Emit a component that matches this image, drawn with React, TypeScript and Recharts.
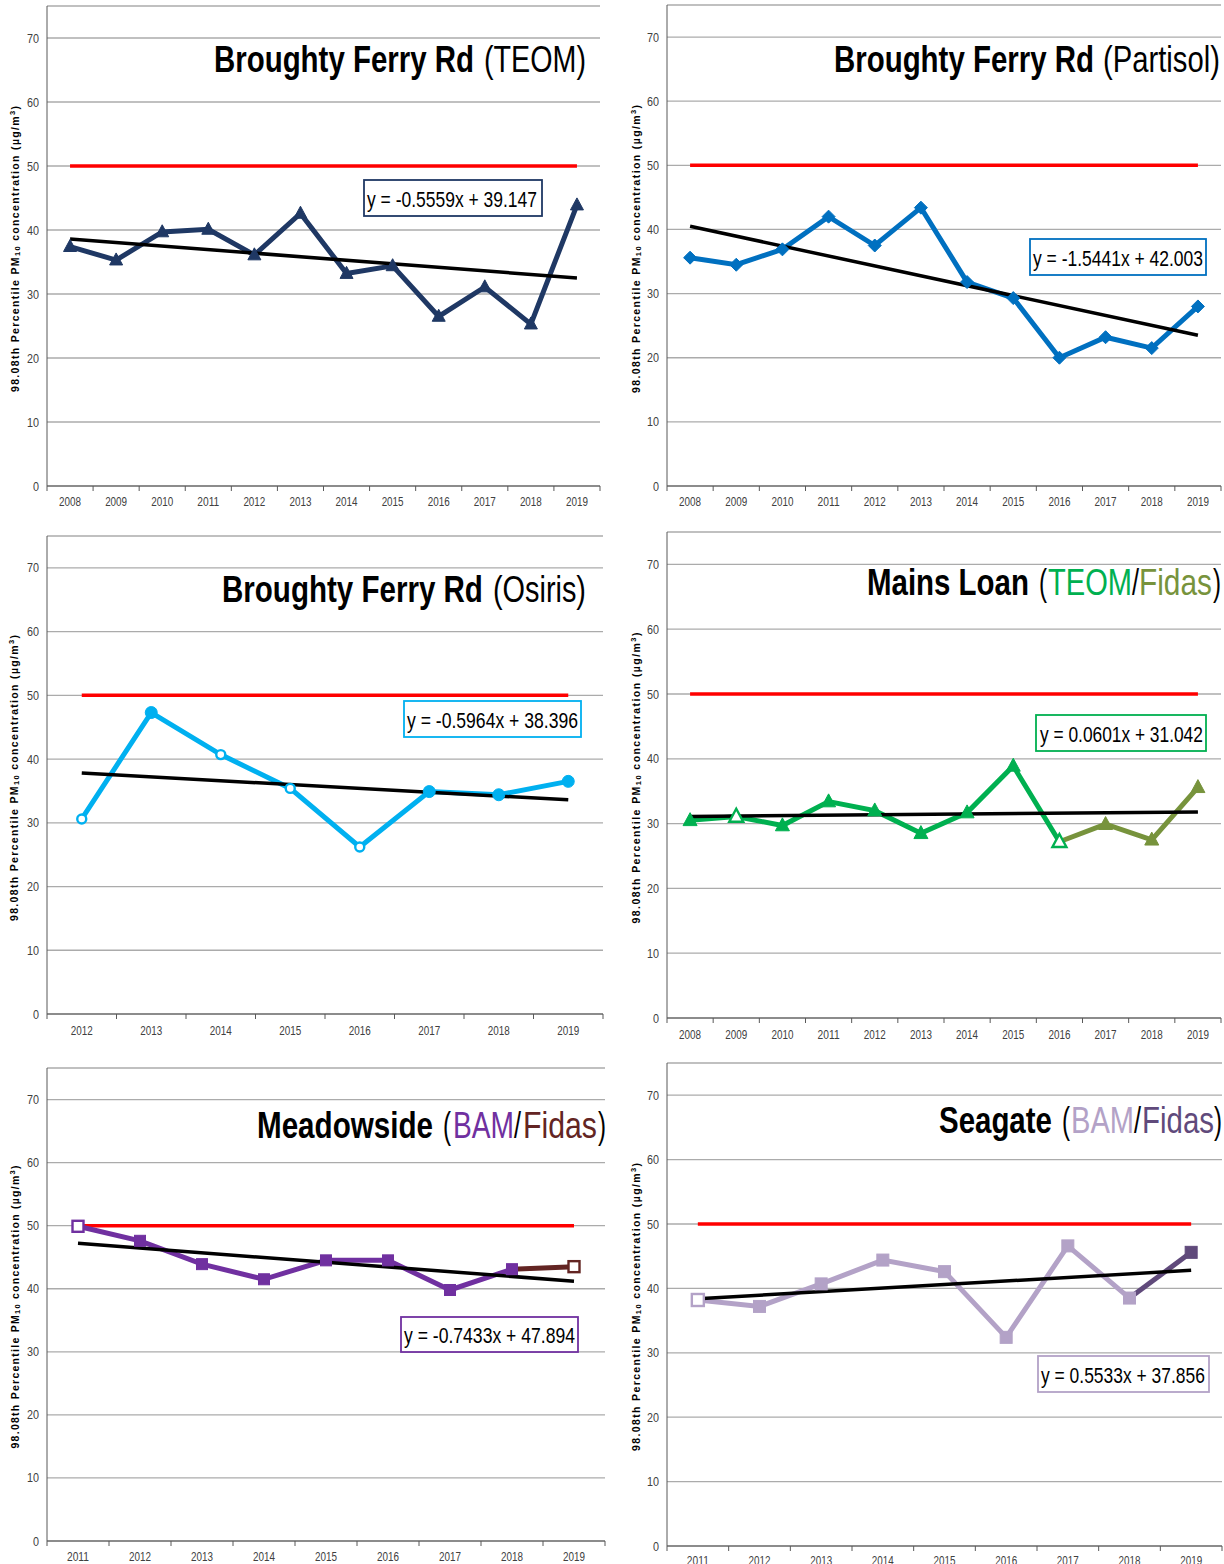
import React from "react";
import { CartesianGrid, Line, LineChart, XAxis, YAxis } from "recharts";

const FONT = '"Liberation Sans", Arial, Helvetica, sans-serif';

// categories
const years0819 = ["2008", "2009", "2010", "2011", "2012", "2013", "2014", "2015", "2016", "2017", "2018", "2019"];
const years1219 = ["2012", "2013", "2014", "2015", "2016", "2017", "2018", "2019"];
const years1119 = ["2011", "2012", "2013", "2014", "2015", "2016", "2017", "2018", "2019"];

// 98.08th percentile PM10, ug/m3
const bfTeom = [37.4, 35.3, 39.7, 40.1, 36.1, 42.6, 33.2, 34.4, 26.5, 31.1, 25.3, 43.9];
const bfPartisol = [35.6, 34.5, 36.9, 42.0, 37.5, 43.4, 31.8, 29.3, 20.0, 23.2, 21.5, 28.0];
const bfOsiris = [30.6, 47.3, 40.7, 35.4, 26.2, 34.9, 34.4, 36.5];
const mlTeom = [30.5, 31.1, 29.7, 33.4, 32.0, 28.5, 31.7, 38.9, 27.2, null, null, null];
const mlFidas = [null, null, null, null, null, null, null, null, 27.2, 29.9, 27.5, 35.6];
const mwBam = [49.9, 47.6, 43.9, 41.5, 44.5, 44.5, 39.8, 43.1, null];
const mwFidas = [null, null, null, null, null, null, null, 43.1, 43.5];
const sgBam = [38.2, 37.2, 40.7, 44.4, 42.6, 32.4, 46.6, 38.5, null];
const sgFidas = [null, null, null, null, null, null, null, 38.5, 45.6];

// linear trend, value at first and last year
const bfTeomTrend = [38.6, 32.5];
const bfPartisolTrend = [40.5, 23.5];
const bfOsirisTrend = [37.8, 33.6];
const mlTrend = [31.1, 31.8];
const mwTrend = [47.2, 41.2];
const sgTrend = [38.4, 42.8];

const limitValue = 50;
const yTicks = [0, 10, 20, 30, 40, 50, 60, 70];

type Shape = "triangle" | "diamond" | "circle" | "square";

type Series = {
  key: string;
  values: (number | null)[];
  color: string;
  shape: Shape;
  size: number;
  hollow: string[];
  skip: string[];
};

// one piece of title text: string, colour, left x, width, bold
type Piece = [string, string, number, number, boolean];

type Panel = {
  id: string;
  years: string[];
  series: Series[];
  trend: number[];
  x: number;
  y: number;
  w: number;
  h: number;
  plotLeft: number;
  plotRight: number;
  plotTop: number;
  plotBottom: number;
  labelDy: number;
  title: { pieces: Piece[]; baseline: number };
  eq: { text: string; color: string; bx: number; by: number; bw: number; bh: number; tx: number; tlen: number; base: number };
  ylab: { cx: number; cy: number; len: number };
};

const panels: Panel[] = [
  {
    id: "bf-teom",
    years: years0819,
    series: [{ key: "teom", values: bfTeom, color: "#1F3864", shape: "triangle", size: 13, hollow: [], skip: [] }],
    trend: bfTeomTrend,
    x: 0, y: 0, w: 612, h: 520,
    plotLeft: 47, plotRight: 600, plotTop: 6, plotBottom: 486, labelDy: 15,
    title: {
      pieces: [
        ["Broughty Ferry Rd", "#000", 214, 260, true],
        ["(TEOM)", "#000", 484, 102, false],
      ],
      baseline: 72,
    },
    eq: { text: "y = -0.5559x + 39.147", color: "#1F3864", bx: 364, by: 180, bw: 178, bh: 36, tx: 367, tlen: 170, base: 207 },
    ylab: { cx: 14.5, cy: 249, len: 286 },
  },
  {
    id: "bf-partisol",
    years: years0819,
    series: [{ key: "partisol", values: bfPartisol, color: "#0070C0", shape: "diamond", size: 13, hollow: [], skip: [] }],
    trend: bfPartisolTrend,
    x: 612, y: 0, w: 612, h: 520,
    plotLeft: 667, plotRight: 1221, plotTop: 5, plotBottom: 486, labelDy: 15,
    title: {
      pieces: [
        ["Broughty Ferry Rd", "#000", 834, 260, true],
        ["(Partisol)", "#000", 1103, 117, false],
      ],
      baseline: 72,
    },
    eq: { text: "y = -1.5441x + 42.003", color: "#0070C0", bx: 1030, by: 239, bw: 176, bh: 36, tx: 1033, tlen: 170, base: 266 },
    ylab: { cx: 635.5, cy: 249, len: 288 },
  },
  {
    id: "bf-osiris",
    years: years1219,
    series: [{ key: "osiris", values: bfOsiris, color: "#00B0F0", shape: "circle", size: 12, hollow: ["2012", "2014", "2015", "2016"], skip: [] }],
    trend: bfOsirisTrend,
    x: 0, y: 520, w: 612, h: 528,
    plotLeft: 47, plotRight: 603, plotTop: 536, plotBottom: 1014, labelDy: 16,
    title: {
      pieces: [
        ["Broughty Ferry Rd", "#000", 222, 261, true],
        ["(Osiris)", "#000", 493, 93, false],
      ],
      baseline: 602,
    },
    eq: { text: "y = -0.5964x + 38.396", color: "#00B0F0", bx: 404, by: 701, bw: 177, bh: 36, tx: 407, tlen: 171, base: 728 },
    ylab: { cx: 14, cy: 778, len: 286 },
  },
  {
    id: "mains-loan",
    years: years0819,
    series: [
      { key: "teom", values: mlTeom, color: "#00B050", shape: "triangle", size: 14, hollow: ["2009", "2016"], skip: [] },
      { key: "fidas", values: mlFidas, color: "#77933C", shape: "triangle", size: 14, hollow: [], skip: ["2016"] },
    ],
    trend: mlTrend,
    x: 612, y: 520, w: 612, h: 528,
    plotLeft: 667, plotRight: 1221, plotTop: 532, plotBottom: 1018, labelDy: 16,
    title: {
      pieces: [
        ["Mains Loan", "#000", 867, 162, true],
        ["(", "#000", 1039, 8, false],
        ["TEOM", "#00B050", 1048, 84, false],
        ["/", "#000", 1132, 7, false],
        ["Fidas", "#77933C", 1139, 73, false],
        [")", "#000", 1213, 8, false],
      ],
      baseline: 595,
    },
    eq: { text: "y = 0.0601x + 31.042", color: "#00B050", bx: 1036, by: 715, bw: 170, bh: 36, tx: 1040, tlen: 163, base: 742 },
    ylab: { cx: 635.5, cy: 778, len: 291 },
  },
  {
    id: "meadowside",
    years: years1119,
    series: [
      { key: "bam", values: mwBam, color: "#7030A0", shape: "square", size: 11, hollow: ["2011"], skip: [] },
      { key: "fidas", values: mwFidas, color: "#632523", shape: "square", size: 11, hollow: ["2019"], skip: ["2018"] },
    ],
    trend: mwTrend,
    x: 0, y: 1048, w: 612, h: 516,
    plotLeft: 47, plotRight: 605, plotTop: 1068, plotBottom: 1541, labelDy: 15,
    title: {
      pieces: [
        ["Meadowside", "#000", 257, 176, true],
        ["(", "#000", 443, 8, false],
        ["BAM", "#7030A0", 453, 61, false],
        ["/", "#000", 514, 7, false],
        ["Fidas", "#632523", 523, 74, false],
        [")", "#000", 598, 8, false],
      ],
      baseline: 1138,
    },
    eq: { text: "y = -0.7433x + 47.894", color: "#7030A0", bx: 401, by: 1317, bw: 177, bh: 35, tx: 404, tlen: 171, base: 1343 },
    ylab: { cx: 15, cy: 1307, len: 283 },
  },
  {
    id: "seagate",
    years: years1119,
    series: [
      { key: "bam", values: sgBam, color: "#B3A2C7", shape: "square", size: 12, hollow: ["2011"], skip: [] },
      { key: "fidas", values: sgFidas, color: "#604A7B", shape: "square", size: 12, hollow: [], skip: ["2018"] },
    ],
    trend: sgTrend,
    x: 612, y: 1048, w: 612, h: 516,
    plotLeft: 667, plotRight: 1222, plotTop: 1063, plotBottom: 1546, labelDy: 14,
    title: {
      pieces: [
        ["Seagate", "#000", 939, 113, true],
        ["(", "#000", 1062, 8, false],
        ["BAM", "#B3A2C7", 1071, 63, false],
        ["/", "#000", 1134, 7, false],
        ["Fidas", "#604A7B", 1142, 72, false],
        [")", "#000", 1214, 8, false],
      ],
      baseline: 1133,
    },
    eq: { text: "y = 0.5533x + 37.856", color: "#B3A2C7", bx: 1038, by: 1356, bw: 171, bh: 36, tx: 1041, tlen: 164, base: 1383 },
    ylab: { cx: 635.5, cy: 1307, len: 288 },
  },
];

// narrow text: measure with canvas, then squeeze horizontally
let measureCtx: CanvasRenderingContext2D | null = null;
function textWidth(text: string, size: number, bold: boolean) {
  if (!measureCtx) measureCtx = document.createElement("canvas").getContext("2d");
  if (!measureCtx) return text.length * size * 0.55;
  measureCtx.font = `${bold ? "bold " : ""}${size}px ${FONT}`;
  return measureCtx.measureText(text).width || text.length * size * 0.55;
}

function NarrowText({ text, x, y, len, size, bold, fill }: { text: string; x: number; y: number; len: number; size: number; bold?: boolean; fill: string }) {
  const sx = len / textWidth(text, size, !!bold);
  return (
    <text
      transform={`translate(${x}, ${y}) scale(${sx}, 1)`}
      x={0}
      y={0}
      fontFamily={FONT}
      fontSize={size}
      fontWeight={bold ? "bold" : "normal"}
      fill={fill}
    >
      {text}
    </text>
  );
}

function buildRows(p: Panel) {
  const n = p.years.length;
  return p.years.map((year, i) => {
    const row: Record<string, string | number | null> = {
      year,
      limit: limitValue,
      trend: i === 0 ? p.trend[0] : i === n - 1 ? p.trend[1] : null,
    };
    p.series.forEach((s) => {
      row[s.key] = s.values[i];
    });
    return row;
  });
}

function makeDot(s: Series) {
  return (props: any) => {
    const { cx, cy, payload, index, value } = props;
    const k = `${s.key}-${index}`;
    if (cx == null || cy == null || value == null || s.skip.includes(payload.year)) return <g key={k} />;
    const open = s.hollow.includes(payload.year);
    const fill = open ? "#ffffff" : s.color;
    const sw = open ? 2.4 : 1;
    const r = s.size / 2;
    if (s.shape === "triangle") {
      return (
        <polygon
          key={k}
          points={`${cx},${cy - r * 1.1} ${cx + r},${cy + r * 0.75} ${cx - r},${cy + r * 0.75}`}
          fill={fill}
          stroke={s.color}
          strokeWidth={sw}
        />
      );
    }
    if (s.shape === "diamond") {
      return (
        <polygon key={k} points={`${cx},${cy - r} ${cx + r},${cy} ${cx},${cy + r} ${cx - r},${cy}`} fill={fill} stroke={s.color} strokeWidth={sw} />
      );
    }
    if (s.shape === "circle") {
      return <circle key={k} cx={cx} cy={cy} r={open ? r - 1.5 : r} fill={fill} stroke={s.color} strokeWidth={sw} />;
    }
    return <rect key={k} x={cx - r} y={cy - r} width={r * 2} height={r * 2} fill={fill} stroke={s.color} strokeWidth={sw} />;
  };
}

function makeXTick(p: Panel) {
  const band = (p.plotRight - p.plotLeft) / p.years.length;
  const last = p.years.length - 1;
  return (props: any) => {
    const { x, y, payload, index } = props;
    const axisY = y - 8;
    return (
      <g>
        <line x1={x - band / 2} x2={x - band / 2} y1={axisY} y2={axisY + 5} stroke="#595959" strokeWidth={1} />
        {index === last ? <line x1={x + band / 2} x2={x + band / 2} y1={axisY} y2={axisY + 5} stroke="#595959" strokeWidth={1} /> : null}
        <text
          x={x}
          y={axisY + p.labelDy}
          textAnchor="middle"
          dominantBaseline="central"
          fontFamily={FONT}
          fontSize={13}
          fill="#404040"
          textLength={22}
          lengthAdjust="spacingAndGlyphs"
        >
          {payload.value}
        </text>
      </g>
    );
  };
}

const YTick = (props: any) => {
  const label = String(props.payload.value);
  return (
    <text
      x={props.x}
      y={props.y}
      textAnchor="end"
      dominantBaseline="central"
      fontFamily={FONT}
      fontSize={13}
      fill="#404040"
      textLength={label.length * 6}
      lengthAdjust="spacingAndGlyphs"
    >
      {label}
    </text>
  );
};

function PanelChart({ p }: { p: Panel }) {
  const rows = buildRows(p);
  return (
    <div style={{ position: "absolute", left: p.x, top: p.y }}>
      <LineChart
        width={p.w}
        height={p.h}
        data={rows}
        margin={{ top: p.plotTop - p.y, right: p.x + p.w - p.plotRight, left: 0, bottom: 0 }}
      >
        <CartesianGrid horizontal vertical={false} stroke="#ABABAB" strokeWidth={1.3} />
        <XAxis
          dataKey="year"
          scale="band"
          interval={0}
          height={p.y + p.h - p.plotBottom}
          tickLine={false}
          axisLine={{ stroke: "#595959", strokeWidth: 1 }}
          tick={makeXTick(p)}
        />
        <YAxis
          domain={[0, 75]}
          ticks={yTicks}
          width={p.plotLeft - p.x}
          tickLine={false}
          axisLine={{ stroke: "#595959", strokeWidth: 1 }}
          tick={<YTick />}
          allowDataOverflow
        />
        <Line dataKey="limit" stroke="#FF0000" strokeWidth={3.5} dot={false} activeDot={false} isAnimationActive={false} />
        {p.series.map((s) => (
          <Line
            key={s.key}
            dataKey={s.key}
            stroke={s.color}
            strokeWidth={5}
            dot={makeDot(s)}
            activeDot={false}
            isAnimationActive={false}
          />
        ))}
        <Line dataKey="trend" stroke="#000000" strokeWidth={3.5} dot={false} activeDot={false} connectNulls isAnimationActive={false} />
      </LineChart>
    </div>
  );
}

function Annotations({ p }: { p: Panel }) {
  const t = p.title;
  const e = p.eq;
  const l = p.ylab;
  return (
    <g fontFamily={FONT}>
      {t.pieces.map(([text, color, x, len, bold], i) => (
        <NarrowText key={i} text={text} x={x} y={t.baseline} len={len} size={37} bold={bold} fill={color} />
      ))}
      <rect x={e.bx} y={e.by} width={e.bw} height={e.bh} fill="#ffffff" stroke={e.color} strokeWidth={1.8} />
      <NarrowText text={e.text} x={e.tx} y={e.base} len={e.tlen} size={22} fill="#000" />
      <text
        x={l.cx}
        y={l.cy}
        transform={`rotate(-90, ${l.cx}, ${l.cy})`}
        textAnchor="middle"
        dominantBaseline="central"
        fontSize={10.5}
        fontWeight="bold"
        fill="#000"
        textLength={l.len}
        lengthAdjust="spacing"
      >
        98.08th Percentile PM
        <tspan fontSize={7.5} dy={2}>10</tspan>
        <tspan dy={-2}> concentration (µg/m</tspan>
        <tspan fontSize={7.5} dy={-3}>3</tspan>
        <tspan dy={3}>)</tspan>
      </text>
    </g>
  );
}

export default function App() {
  return (
    <div style={{ position: "absolute", left: 0, top: 0, width: 1224, height: 1564, background: "#ffffff", overflow: "hidden" }}>
      {panels.map((p) => (
        <PanelChart key={p.id} p={p} />
      ))}
      <svg width={1224} height={1564} style={{ position: "absolute", left: 0, top: 0, pointerEvents: "none" }}>
        {panels.map((p) => (
          <Annotations key={p.id} p={p} />
        ))}
      </svg>
    </div>
  );
}
